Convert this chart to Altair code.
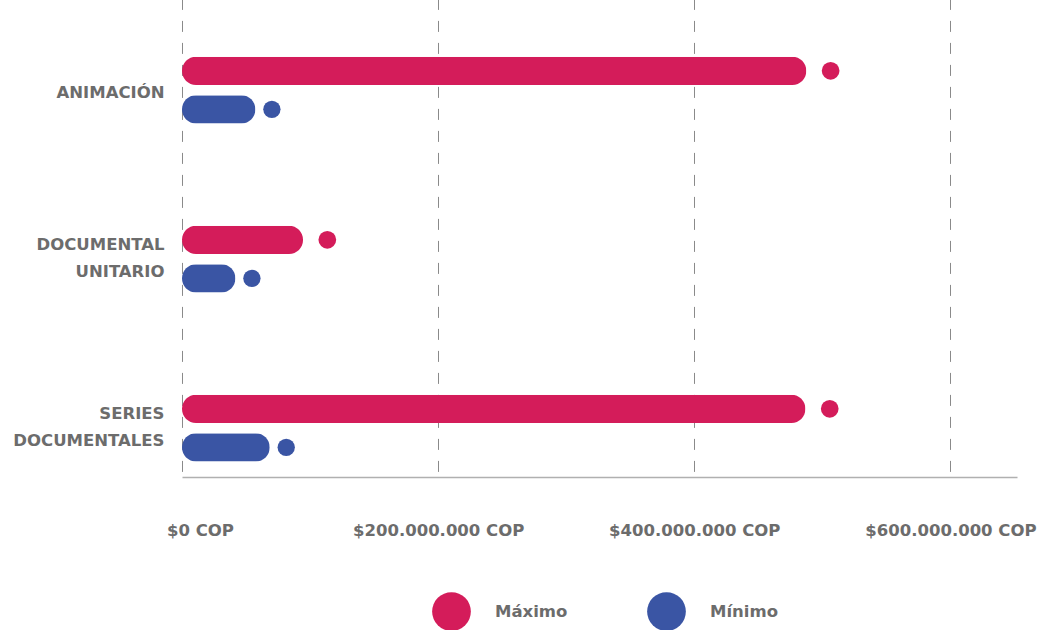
import altair as alt
import pandas as pd

categories = ["ANIMACIÓN", "DOCUMENTAL UNITARIO", "SERIES DOCUMENTALES"]
series = ["Máximo", "Mínimo"]
maximo = [487.5e6, 94.5e6, 486.8e6]
minimo = [57.3e6, 41.7e6, 68.5e6]
tick_values = [0, 200e6, 400e6, 600e6]
colors = ["#D41C5A", "#3A55A4"]

rows = []
for c, mx, mn in zip(categories, maximo, minimo):
    rows.append({"cat": c, "serie": series[0], "valor": mx})
    rows.append({"cat": c, "serie": series[1], "valor": mn})
df = pd.DataFrame(rows)

FONT = "DejaVu Sans"
GREY = "#6c6c6c"

x_enc = alt.X(
    "valor:Q",
    title=None,
    scale=alt.Scale(domain=[0, 652e6], nice=False, zero=True),
    axis=alt.Axis(
        values=tick_values,
        labelExpr="datum.value == 0 ? '$0 COP' : '$' + format(datum.value / 1000000, 'd') + '.000.000 COP'",
        labelFont=FONT,
        labelFontWeight="bold",
        labelFontSize=16.5,
        labelColor=GREY,
        labelPadding=45,
        labelOffset={"condition": {"test": "datum.value === 0", "value": 18}, "value": 0},
        labelFlush=False,
        ticks=False,
        grid=True,
        gridDash=[11, 11],
        gridColor="#8a8a8a",
        gridWidth=1,
        domain=True,
        domainColor="#b0b0b0",
        domainWidth=1.5,
    ),
)

y_enc = alt.Y(
    "cat:N",
    title=None,
    sort=categories,
    scale=alt.Scale(domain=categories, range=[5.6, 512.6], paddingInner=0, paddingOuter=0),
    axis=alt.Axis(
        labelExpr="split(datum.label, ' ')",
        labelFont=FONT,
        labelFontWeight="bold",
        labelFontSize=16.5,
        labelColor=GREY,
        labelPadding=18,
        labelLineHeight=27,
        labelBaseline="middle",
        labelOffset={"condition": {"test": "indexof(datum.label, ' ') >= 0", "value": -14}, "value": 3},
        ticks=False,
        domain=False,
        grid=False,
    ),
)

yoff_enc = alt.YOffset(
    "serie:N",
    sort=series,
    scale=alt.Scale(domain=series, range=[51.1, 117.9], paddingInner=0.265, paddingOuter=0),
)

color_enc = alt.Color(
    "serie:N",
    sort=series,
    scale=alt.Scale(domain=series, range=colors),
    legend=alt.Legend(
        title=None,
        orient="none",
        direction="horizontal",
        legendX=250,
        legendY=592,
        padding=0,
        symbolType="circle",
        symbolSize=1500,
        symbolOpacity=1,
        symbolStrokeWidth=0,
        labelFont=FONT,
        labelFontWeight="bold",
        labelFontSize=16.5,
        labelColor=GREY,
        labelOffset=24,
        columnPadding=79,
    ),
)

base = alt.Chart(df)

bars = base.mark_bar(cornerRadius=14).encode(
    x=x_enc, y=y_enc, yOffset=yoff_enc, color=color_enc
)

dots_max = base.transform_filter(alt.datum.serie == series[0]).mark_circle(
    size=313, opacity=1, xOffset=24.3
).encode(x=x_enc, y=y_enc, yOffset=yoff_enc, color=color_enc)

dots_min = base.transform_filter(alt.datum.serie == series[1]).mark_circle(
    size=300, opacity=1, xOffset=16.5
).encode(x=x_enc, y=y_enc, yOffset=yoff_enc, color=color_enc)

chart = (
    alt.layer(bars, dots_max, dots_min)
    .properties(
        width=835,
        height=477,
        autosize=alt.AutoSizeParams(type="none"),
        padding={"left": 182, "top": 0, "right": 25, "bottom": 153},
        background="white",
    )
    .configure_view(stroke=None)
)

chart.save("out.html", embed_options={"renderer": "svg", "actions": False})
